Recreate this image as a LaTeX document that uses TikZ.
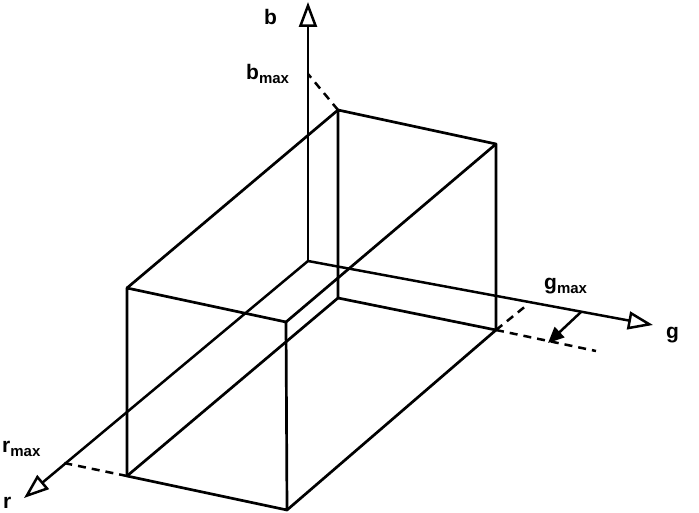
\documentclass[tikz,border=0pt]{standalone}
\usepackage{fontspec}
\setmainfont{Liberation Sans}
\usetikzlibrary{arrows.meta}
\newcommand{\mylab}[2]{{\fontsize{21}{22}\selectfont #1}\raisebox{-4pt}{\fontsize{15}{15}\selectfont #2}}
\begin{document}
\begin{tikzpicture}[x=1pt,y=-1pt,
  edge/.style={line width=2.7pt, line join=round, line cap=round},
  axisline/.style={line width=2.5pt, -{Triangle[open, length=25pt, width=18pt]}},
  dashline/.style={line width=2.5pt, dash pattern=on 8pt off 6pt},
  smallarrow/.style={line width=2.5pt, -{Triangle[length=16pt, width=14pt]}},
  lbl/.style={inner sep=0pt, anchor=base west, font=\bfseries\fontsize{21}{22}\selectfont}]
\useasboundingbox (0,0) rectangle (699,513);
% axes
\coordinate (O) at (308,261);
\coordinate (btip) at (308,2);
\coordinate (gtip) at (653,325);
\coordinate (rtip) at (24,498);
\draw[axisline] (O) -- (btip);
\draw[axisline] (O) -- (gtip);
\draw[axisline] (O) -- (rtip);
% box
\coordinate (A1) at (338,110);
\coordinate (A2) at (496,144);
\coordinate (A3) at (496,330);
\coordinate (A4) at (338,298);
\coordinate (B1) at (127,288);
\coordinate (B2) at (286,322);
\coordinate (B3) at (287,510);
\coordinate (B4) at (127,476);
\draw[edge] (A1) -- (A2) -- (A3) -- (A4) -- cycle;
\draw[edge] (B1) -- (B2) -- (B3) -- (B4) -- cycle;
\draw[edge] (A1) -- (B1);
\draw[edge] (A2) -- (B2);
\draw[edge] (A3) -- (B3);
\draw[edge] (A4) -- (B4);
% projections
\coordinate (bmax) at (308,74);
\coordinate (gmax) at (527,305);
\coordinate (gend) at (596,351);
\coordinate (rmax) at (64,463);
\coordinate (sa) at (581,312);
\coordinate (se) at (548,343);
\draw[dashline] (A1) -- (bmax);
\draw[dashline] (A3) -- (gmax);
\draw[dashline] (A3) -- (gend);
\draw[dashline] (B4) -- (rmax);
\draw[smallarrow] (sa) -- (se);
% labels
\node[lbl] (lb) at (264,25) {b};
\node[lbl] (lbm) at (246,80) {\mylab{b}{max}};
\node[lbl] (lgm) at (544,290) {\mylab{g}{max}};
\node[lbl] (lg) at (666,338) {g};
\node[lbl] (lrm) at (2,452) {\mylab{r}{max}};
\node[lbl] (lr) at (3,508) {r};
\end{tikzpicture}
\end{document}
